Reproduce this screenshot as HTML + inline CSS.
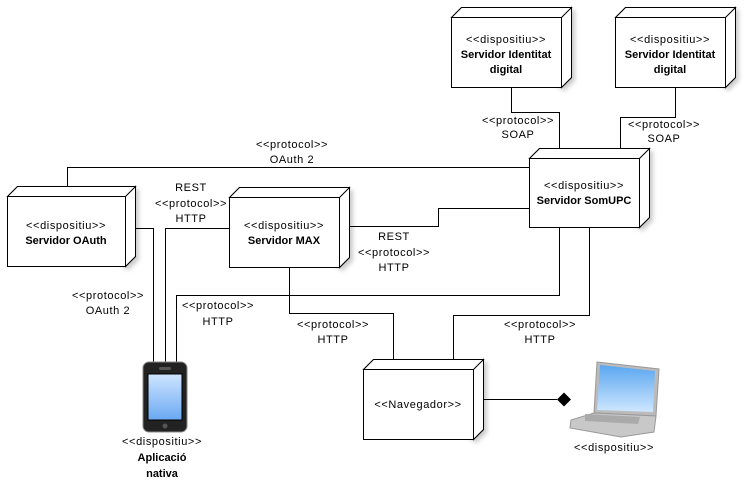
<!DOCTYPE html>
<html><head><meta charset="utf-8"><style>body{margin:0;background:#fff}svg{display:block}text{font-family:"Liberation Sans",Arial,sans-serif;font-size:11px;fill:#000;letter-spacing:0.6px}text.b{font-weight:bold;letter-spacing:0}</style></head><body>
<svg width="746" height="481" viewBox="0 0 746 481" xmlns="http://www.w3.org/2000/svg">
<defs>
<filter id="sh" x="-10%" y="-10%" width="130%" height="130%"><feDropShadow dx="3" dy="3" stdDeviation="2" flood-color="#000" flood-opacity="0.2"/></filter>
<linearGradient id="scr" x1="0" y1="0" x2="0" y2="1"><stop offset="0" stop-color="#cfe5ff"/><stop offset="1" stop-color="#6aa9f2"/></linearGradient>
<linearGradient id="lscr" x1="0" y1="0" x2="0" y2="1"><stop offset="0" stop-color="#5aa6f0"/><stop offset="1" stop-color="#cfe7ff"/></linearGradient>
</defs>
<g fill="none" stroke="#000" stroke-width="1">
<polyline points="511.5,87 511.5,112.5 559.5,112.5 559.5,148"/>
<polyline points="675.5,87 675.5,117.5 620.5,117.5 620.5,148"/>
<polyline points="67.5,187 67.5,167.5 529,167.5"/>
<polyline points="126,228.5 153.5,228.5 153.5,362"/>
<polyline points="229,228.5 165.5,228.5 165.5,362"/>
<polyline points="339,226.5 438.5,226.5 438.5,208.5 529,208.5"/>
<polyline points="176.5,362 176.5,295.5 559.5,295.5 559.5,227"/>
<polyline points="289.5,267 289.5,313.5 393.5,313.5 393.5,359"/>
<polyline points="589.5,227 589.5,315.5 453.5,315.5 453.5,359"/>
<line x1="473" y1="399.5" x2="557" y2="399.5"/>
</g>
<polygon points="557,399.5 564,392.5 571,399.5 564,406.5" fill="#000"/>
<g stroke="#000" stroke-width="1" fill="#fff" filter="url(#sh)">
<path d="M451.5,17.5 l10,-10 h110 v70 l-10,10 z"/>
<path d="M615.5,17.5 l10,-10 h110 v70 l-10,10 z"/>
<path d="M529.5,158.5 l10,-10 h110 v69 l-10,10 z"/>
<path d="M7.5,196.5 l10,-10 h118 v70 l-10,10 z"/>
<path d="M229.5,197.5 l10,-10 h110 v70 l-10,10 z"/>
<path d="M363.5,369.5 l10,-10 h110 v70 l-10,10 z"/>
</g>
<g stroke="#000" stroke-width="1" fill="#fff">
<path d="M451.5,17.5 l10,-10 h110 l-10,10 z M561.5,17.5 l10,-10 v70 l-10,10 z"/><rect x="451.5" y="17.5" width="110" height="70"/>
<path d="M615.5,17.5 l10,-10 h110 l-10,10 z M725.5,17.5 l10,-10 v70 l-10,10 z"/><rect x="615.5" y="17.5" width="110" height="70"/>
<path d="M529.5,158.5 l10,-10 h110 l-10,10 z M639.5,158.5 l10,-10 v69 l-10,10 z"/><rect x="529.5" y="158.5" width="110" height="69"/>
<path d="M7.5,196.5 l10,-10 h118 l-10,10 z M125.5,196.5 l10,-10 v70 l-10,10 z"/><rect x="7.5" y="196.5" width="118" height="70"/>
<path d="M229.5,197.5 l10,-10 h110 l-10,10 z M339.5,197.5 l10,-10 v70 l-10,10 z"/><rect x="229.5" y="197.5" width="110" height="70"/>
<path d="M363.5,369.5 l10,-10 h110 l-10,10 z M473.5,369.5 l10,-10 v70 l-10,10 z"/><rect x="363.5" y="369.5" width="110" height="70"/>
</g>
<g text-anchor="middle">
<text x="506" y="43">&lt;&lt;dispositiu&gt;&gt;</text><text x="506" y="58" class="b">Servidor Identitat</text><text x="506" y="73" class="b">digital</text>
<text x="670" y="43">&lt;&lt;dispositiu&gt;&gt;</text><text x="670" y="58" class="b">Servidor Identitat</text><text x="670" y="73" class="b">digital</text>
<text x="584" y="189">&lt;&lt;dispositiu&gt;&gt;</text><text x="584" y="204" class="b">Servidor SomUPC</text>
<text x="66" y="229">&lt;&lt;dispositiu&gt;&gt;</text><text x="66" y="244" class="b">Servidor OAuth</text>
<text x="284" y="229">&lt;&lt;dispositiu&gt;&gt;</text><text x="284" y="244" class="b">Servidor MAX</text>
<text x="418" y="408">&lt;&lt;Navegador&gt;&gt;</text>
<text x="518" y="124">&lt;&lt;protocol&gt;&gt;</text><text x="518" y="138">SOAP</text>
<text x="664" y="128">&lt;&lt;protocol&gt;&gt;</text><text x="664" y="142">SOAP</text>
<text x="292" y="148">&lt;&lt;protocol&gt;&gt;</text><text x="292" y="163">OAuth 2</text>
<text x="191" y="191">REST</text><text x="191" y="207">&lt;&lt;protocol&gt;&gt;</text><text x="191" y="222">HTTP</text>
<text x="394" y="240">REST</text><text x="394" y="256">&lt;&lt;protocol&gt;&gt;</text><text x="394" y="271">HTTP</text>
<text x="108" y="299">&lt;&lt;protocol&gt;&gt;</text><text x="108" y="314">OAuth 2</text>
<text x="218" y="309">&lt;&lt;protocol&gt;&gt;</text><text x="218" y="325">HTTP</text>
<text x="333" y="328">&lt;&lt;protocol&gt;&gt;</text><text x="333" y="343">HTTP</text>
<text x="540" y="328">&lt;&lt;protocol&gt;&gt;</text><text x="540" y="343">HTTP</text>
<text x="162" y="445">&lt;&lt;dispositiu&gt;&gt;</text><text x="162" y="461" class="b">Aplicació</text><text x="162" y="477" class="b">nativa</text>
<text x="614" y="451">&lt;&lt;dispositiu&gt;&gt;</text>
</g>
<rect x="143" y="362" width="44" height="70" rx="6" fill="#222" stroke="#888"/>
<rect x="148" y="374" width="34" height="46" fill="url(#scr)" stroke="#000"/>
<rect x="159" y="367" width="12" height="3" rx="1.5" fill="#555"/>
<circle cx="165" cy="426" r="2.5" fill="#555"/>
<path d="M597,362 L659,369 L656,416 L594,413 Z" fill="#bbb" stroke="#999"/>
<path d="M600,365 L655,371 L653,412 L597,410 Z" fill="url(#lscr)"/>
<path d="M594,413 L656,416 L654,432 L621,437 L570,428 L571,420 Z" fill="#c8c8c8" stroke="#999"/>
<path d="M585,414 L640,417 L638,424 L585,421 Z" fill="#aaa"/>
</svg>
</body></html>
